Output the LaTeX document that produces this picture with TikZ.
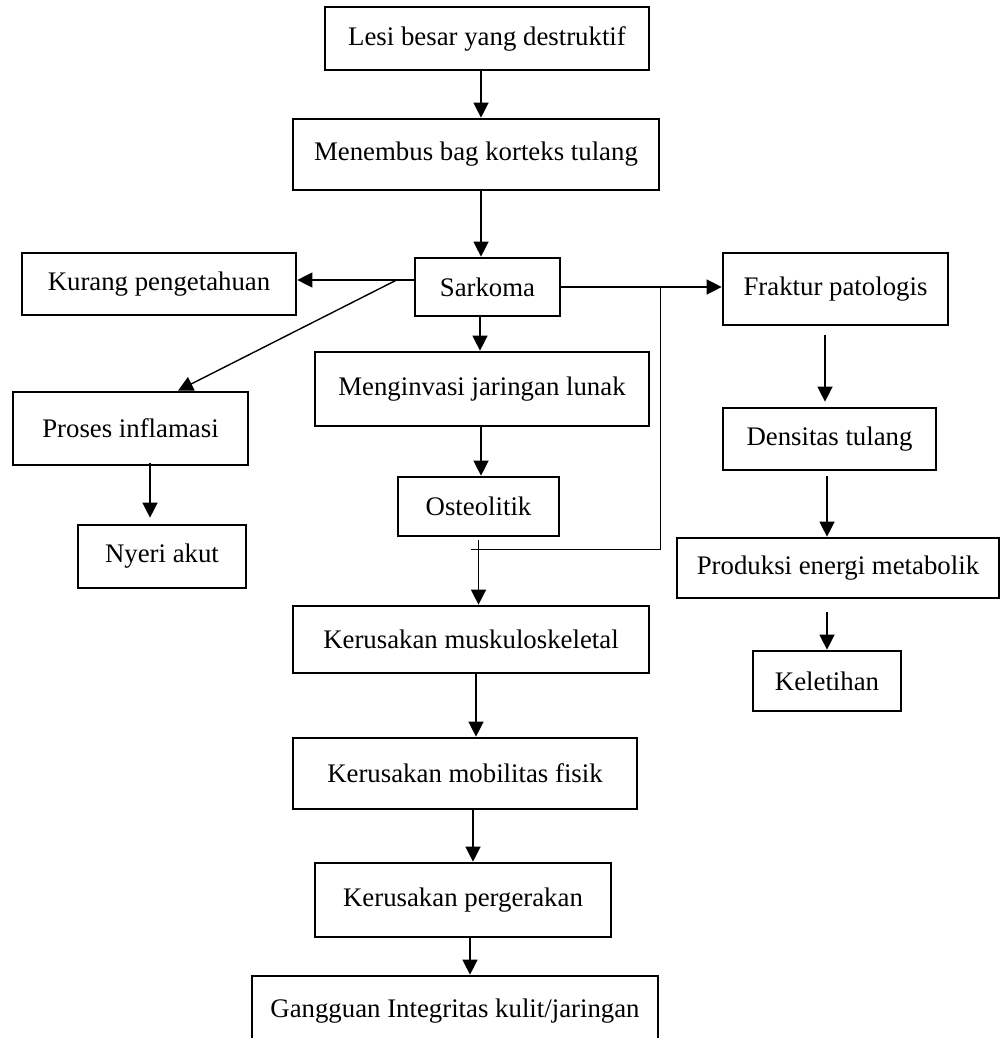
\documentclass[tikz,border=0pt]{standalone}
\usepackage{fontspec}
\setmainfont{Liberation Serif}
\usetikzlibrary{arrows.meta}
\begin{document}
\begin{tikzpicture}[x=1pt,y=-1pt,
  box/.style={draw=black,line width=2.7pt,inner sep=0pt,anchor=center,
    font=\fontsize{26.8}{32}\selectfont},
  conn/.style={draw=black,line width=1.4pt},
  arr/.style={conn,-{Triangle[length=15pt,width=15pt]}}]
\clip (0,0) rectangle (1000,1038);
\fill[white] (0,0) rectangle (1000,1038);
% nodes
\node[box,minimum width=324pt,minimum height=63pt] (lesi) at (487,38.5) {Lesi besar yang destruktif};
\node[box,minimum width=366pt,minimum height=71pt] (menembus) at (476,154.5) {Menembus bag korteks tulang};
\node[box,minimum width=145pt,minimum height=58pt] (sarkoma) at (487.5,287) {Sarkoma};
\node[box,minimum width=274pt,minimum height=62pt] (kurang) at (159,284) {Kurang pengetahuan};
\node[box,minimum width=235pt,minimum height=73pt] (proses) at (130.5,428.5) {Proses inflamasi};
\node[box,minimum width=168pt,minimum height=63pt] (nyeri) at (162,556.5) {Nyeri akut};
\node[box,minimum width=334pt,minimum height=74pt] (menginvasi) at (482,389) {Menginvasi jaringan lunak};
\node[box,minimum width=161pt,minimum height=59pt] (osteo) at (478.5,506.5) {Osteolitik};
\node[box,minimum width=225pt,minimum height=72pt] (fraktur) at (835.5,289) {Fraktur patologis};
\node[box,minimum width=213pt,minimum height=62pt] (densitas) at (829.5,439) {Densitas tulang};
\node[box,minimum width=322pt,minimum height=60pt] (produksi) at (838,568) {Produksi energi metabolik};
\node[box,minimum width=148pt,minimum height=60pt] (keletihan) at (827,681) {Keletihan};
\node[box,minimum width=356pt,minimum height=67pt] (musk) at (471,639.5) {Kerusakan muskuloskeletal};
\node[box,minimum width=344pt,minimum height=71pt] (mobil) at (465,773.5) {Kerusakan mobilitas fisik};
\node[box,minimum width=296pt,minimum height=74pt] (gerak) at (463,900) {Kerusakan pergerakan};
\node[box,minimum width=406pt,minimum height=70pt] (gangguan) at (455,1011) {Gangguan Integritas kulit/jaringan};
% connectors
\draw[arr] ([xshift=-6pt]lesi.south) -- ([xshift=-6pt]lesi.south |- menembus.north);
\draw[arr] ([xshift=5pt]menembus.south) -- ([xshift=5pt]menembus.south |- sarkoma.north);
\draw[arr] ([yshift=7pt]sarkoma.west) -- ([yshift=7pt]sarkoma.west -| kurang.east);
\draw[arr] ([xshift=-17pt,yshift=7pt]sarkoma.west) -- ([xshift=47.5pt]proses.north);
\draw[arr] ([xshift=-7.5pt]sarkoma.south) -- ([xshift=-7.5pt]sarkoma.south |- menginvasi.north);
\draw[arr] ([xshift=-1pt,yshift=2pt]menginvasi.south) -- ([xshift=-1pt]menginvasi.south |- osteo.north);
\draw[arr] (sarkoma.east) -- (sarkoma.east -| fraktur.west);
\coordinate (jr) at ([xshift=99pt]sarkoma.east);
\coordinate (jl) at ([xshift=-7.5pt,yshift=-12pt]osteo.south);
\draw[conn] (jr) |- (jl);
\draw[arr,shorten <=3pt] (osteo.south) -- (osteo.south |- musk.north);
\draw[arr] ([xshift=5pt]musk.south) -- ([xshift=5pt]musk.south |- mobil.north);
\draw[arr] ([xshift=8pt]mobil.south) -- ([xshift=8pt]mobil.south |- gerak.north);
\draw[arr] ([xshift=7pt]gerak.south) -- ([xshift=7pt]gerak.south |- gangguan.north);
\draw[arr,shorten <=9pt,shorten >=5pt] ([xshift=-10.5pt]fraktur.south) -- ([xshift=-10.5pt]fraktur.south |- densitas.north);
\draw[arr,shorten <=5pt] ([xshift=-2.5pt]densitas.south) -- ([xshift=-2.5pt]densitas.south |- produksi.north);
\draw[arr,shorten <=13pt] ([xshift=-11pt]produksi.south) -- ([xshift=-11pt]produksi.south |- keletihan.north);
\draw[arr,shorten >=6pt] ([xshift=19.5pt,yshift=3pt]proses.south) -- ([xshift=19.5pt]proses.south |- nyeri.north);
\end{tikzpicture}
\end{document}
